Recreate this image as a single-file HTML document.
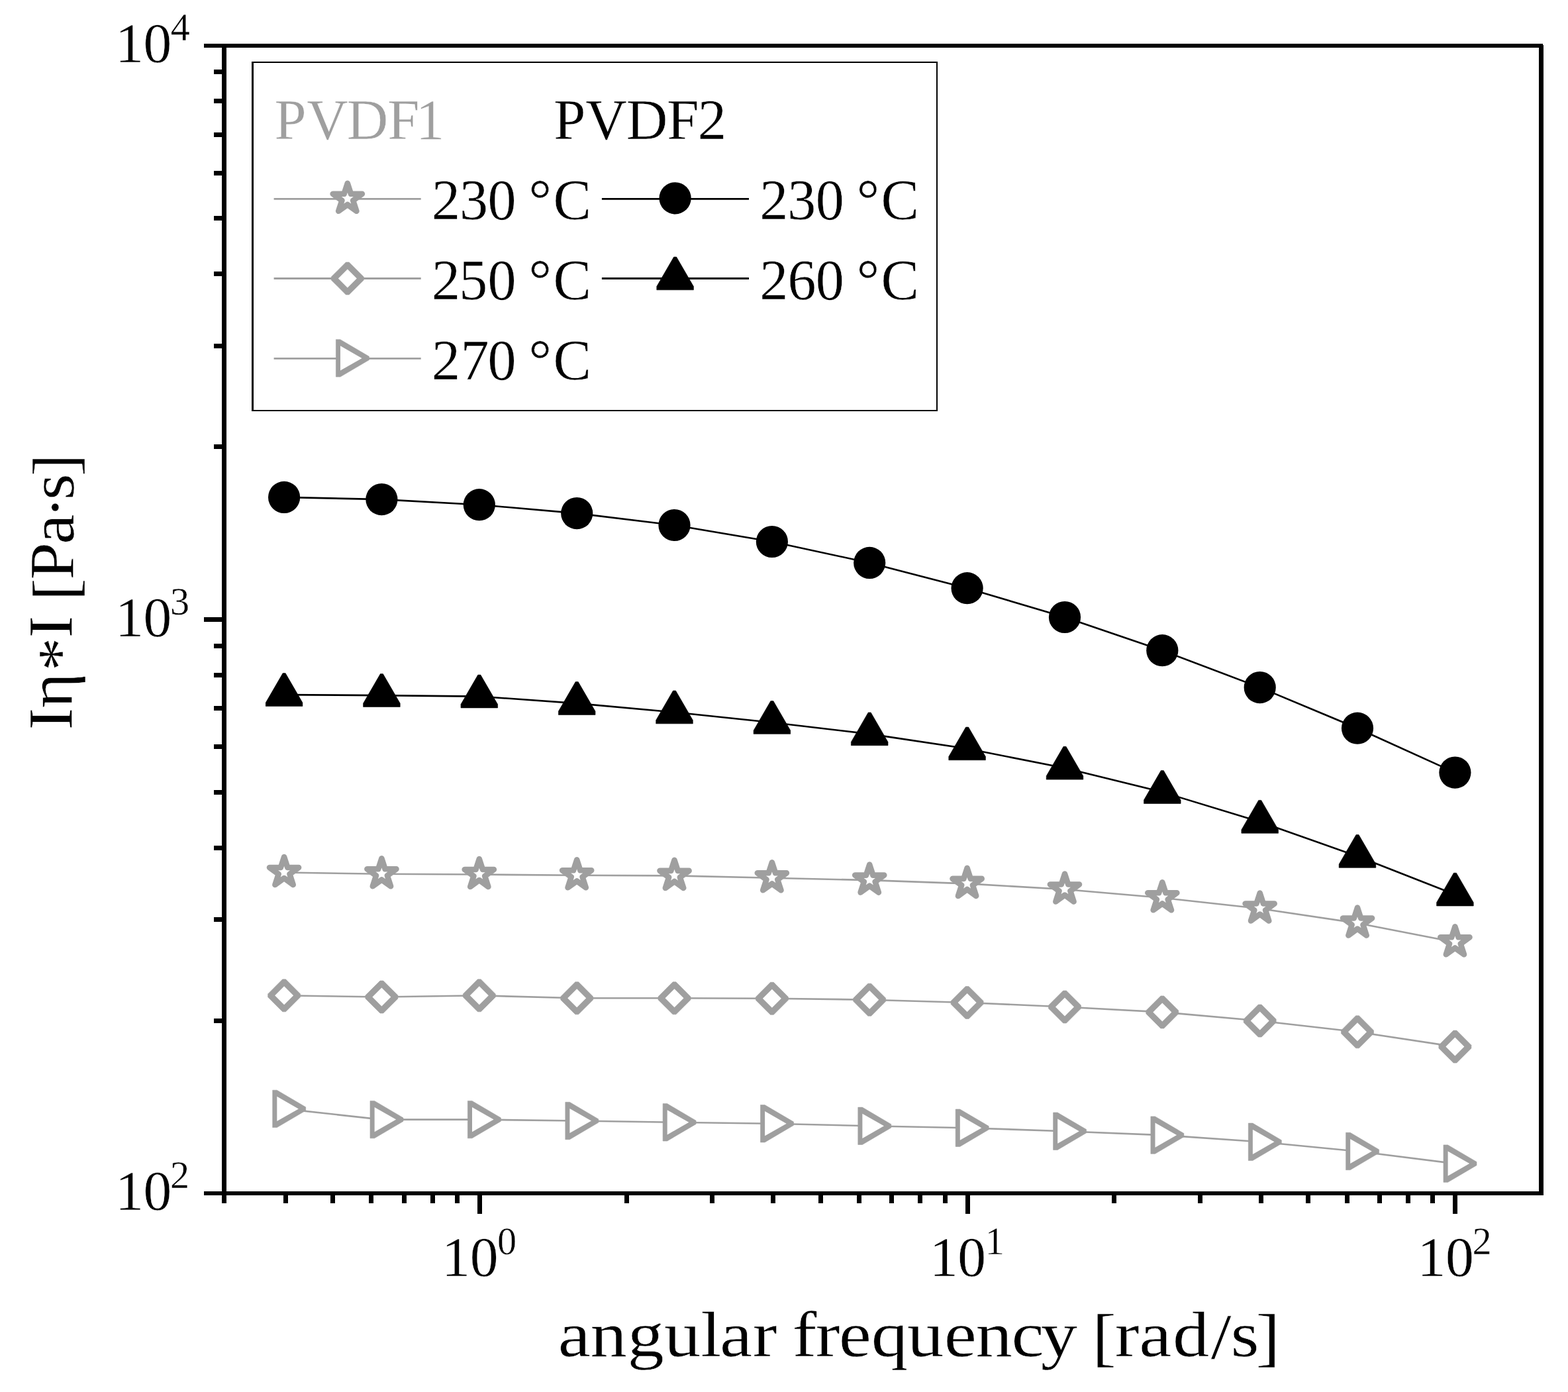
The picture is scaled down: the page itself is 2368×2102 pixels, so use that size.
<!DOCTYPE html>
<html lang="en">
<head>
<meta charset="utf-8">
<title>Complex viscosity vs angular frequency</title>
<style>
html, body { margin: 0; padding: 0; background: #fff; }
body { width: 2368px; height: 2102px; overflow: hidden; }
svg { display: block; }
svg text { font-family: "Liberation Serif", "DejaVu Serif", serif; white-space: pre; }
</style>
</head>
<body>
<svg width="2368" height="2102" viewBox="0 0 2368 2102">
<rect width="2368" height="2102" fill="#fff"/>
<g id="series">
<polyline points="429.1,1317.5 576.4,1319.8 723.8,1320.5 871.2,1321.8 1018.5,1322.4 1165.9,1325.8 1313.2,1329.1 1460.6,1334.4 1608.0,1343.0 1755.3,1355.8 1902.7,1372.0 2050.0,1394.0 2197.4,1422.8" fill="none" stroke="#9f9f9f" stroke-width="2.6"/>
<polygon points="429.1,1294.0 434.3,1310.0 451.1,1310.0 437.5,1319.9 442.7,1336.0 429.1,1326.1 415.4,1336.0 420.7,1319.9 407.0,1310.0 423.9,1310.0" fill="#fff" stroke="#9f9f9f" stroke-width="8.6" stroke-linejoin="round"/>
<polygon points="576.4,1296.3 581.6,1312.3 598.5,1312.3 584.9,1322.2 590.1,1338.3 576.4,1328.4 562.8,1338.3 568.0,1322.2 554.4,1312.3 571.2,1312.3" fill="#fff" stroke="#9f9f9f" stroke-width="8.6" stroke-linejoin="round"/>
<polygon points="723.8,1297.0 729.0,1313.0 745.9,1313.0 732.2,1322.9 737.4,1339.0 723.8,1329.1 710.2,1339.0 715.4,1322.9 701.7,1313.0 718.6,1313.0" fill="#fff" stroke="#9f9f9f" stroke-width="8.6" stroke-linejoin="round"/>
<polygon points="871.2,1298.3 876.4,1314.3 893.2,1314.3 879.6,1324.2 884.8,1340.3 871.2,1330.4 857.5,1340.3 862.7,1324.2 849.1,1314.3 866.0,1314.3" fill="#fff" stroke="#9f9f9f" stroke-width="8.6" stroke-linejoin="round"/>
<polygon points="1018.5,1298.9 1023.7,1314.9 1040.6,1314.9 1026.9,1324.8 1032.2,1340.9 1018.5,1331.0 1004.9,1340.9 1010.1,1324.8 996.5,1314.9 1013.3,1314.9" fill="#fff" stroke="#9f9f9f" stroke-width="8.6" stroke-linejoin="round"/>
<polygon points="1165.9,1302.3 1171.1,1318.3 1187.9,1318.3 1174.3,1328.2 1179.5,1344.3 1165.9,1334.4 1152.2,1344.3 1157.5,1328.2 1143.8,1318.3 1160.7,1318.3" fill="#fff" stroke="#9f9f9f" stroke-width="8.6" stroke-linejoin="round"/>
<polygon points="1313.2,1305.6 1318.4,1321.6 1335.3,1321.6 1321.7,1331.5 1326.9,1347.6 1313.2,1337.7 1299.6,1347.6 1304.8,1331.5 1291.2,1321.6 1308.0,1321.6" fill="#fff" stroke="#9f9f9f" stroke-width="8.6" stroke-linejoin="round"/>
<polygon points="1460.6,1310.9 1465.8,1326.9 1482.7,1326.9 1469.0,1336.8 1474.2,1352.9 1460.6,1343.0 1447.0,1352.9 1452.2,1336.8 1438.5,1326.9 1455.4,1326.9" fill="#fff" stroke="#9f9f9f" stroke-width="8.6" stroke-linejoin="round"/>
<polygon points="1608.0,1319.5 1613.2,1335.5 1630.0,1335.5 1616.4,1345.4 1621.6,1361.5 1608.0,1351.6 1594.3,1361.5 1599.5,1345.4 1585.9,1335.5 1602.8,1335.5" fill="#fff" stroke="#9f9f9f" stroke-width="8.6" stroke-linejoin="round"/>
<polygon points="1755.3,1332.3 1760.5,1348.3 1777.4,1348.3 1763.7,1358.2 1769.0,1374.3 1755.3,1364.4 1741.7,1374.3 1746.9,1358.2 1733.3,1348.3 1750.1,1348.3" fill="#fff" stroke="#9f9f9f" stroke-width="8.6" stroke-linejoin="round"/>
<polygon points="1902.7,1348.5 1907.9,1364.5 1924.7,1364.5 1911.1,1374.4 1916.3,1390.5 1902.7,1380.6 1889.0,1390.5 1894.3,1374.4 1880.6,1364.5 1897.5,1364.5" fill="#fff" stroke="#9f9f9f" stroke-width="8.6" stroke-linejoin="round"/>
<polygon points="2050.0,1370.5 2055.2,1386.5 2072.1,1386.5 2058.5,1396.4 2063.7,1412.5 2050.0,1402.6 2036.4,1412.5 2041.6,1396.4 2028.0,1386.5 2044.8,1386.5" fill="#fff" stroke="#9f9f9f" stroke-width="8.6" stroke-linejoin="round"/>
<polygon points="2197.4,1399.3 2202.6,1415.3 2219.5,1415.3 2205.8,1425.2 2211.0,1441.3 2197.4,1431.4 2183.8,1441.3 2189.0,1425.2 2175.3,1415.3 2192.2,1415.3" fill="#fff" stroke="#9f9f9f" stroke-width="8.6" stroke-linejoin="round"/>
<polyline points="429.1,1503.3 576.4,1505.5 723.8,1503.3 871.2,1507.3 1018.5,1507.3 1165.9,1507.8 1313.2,1509.7 1460.6,1514.0 1608.0,1520.5 1755.3,1528.4 1902.7,1541.5 2050.0,1558.3 2197.4,1580.6" fill="none" stroke="#9f9f9f" stroke-width="2.6"/>
<path d="M426.7,1478.8 L431.5,1478.8 L453.6,1500.9 L453.6,1505.7 L431.5,1527.8 L426.7,1527.8 L404.6,1505.7 L404.6,1500.9Z" fill="#9f9f9f" stroke="#9f9f9f" stroke-width="0.6" stroke-linejoin="round"/>
<path d="M429.1,1489.3 L443.1,1503.3 L429.1,1517.3 L415.1,1503.3Z" fill="#fff"/>
<path d="M574.0,1481.0 L578.8,1481.0 L600.9,1503.1 L600.9,1507.9 L578.8,1530.0 L574.0,1530.0 L551.9,1507.9 L551.9,1503.1Z" fill="#9f9f9f" stroke="#9f9f9f" stroke-width="0.6" stroke-linejoin="round"/>
<path d="M576.4,1491.5 L590.4,1505.5 L576.4,1519.5 L562.4,1505.5Z" fill="#fff"/>
<path d="M721.4,1478.8 L726.2,1478.8 L748.3,1500.9 L748.3,1505.7 L726.2,1527.8 L721.4,1527.8 L699.3,1505.7 L699.3,1500.9Z" fill="#9f9f9f" stroke="#9f9f9f" stroke-width="0.6" stroke-linejoin="round"/>
<path d="M723.8,1489.3 L737.8,1503.3 L723.8,1517.3 L709.8,1503.3Z" fill="#fff"/>
<path d="M868.8,1482.8 L873.6,1482.8 L895.7,1504.9 L895.7,1509.7 L873.6,1531.8 L868.8,1531.8 L846.7,1509.7 L846.7,1504.9Z" fill="#9f9f9f" stroke="#9f9f9f" stroke-width="0.6" stroke-linejoin="round"/>
<path d="M871.2,1493.3 L885.2,1507.3 L871.2,1521.3 L857.2,1507.3Z" fill="#fff"/>
<path d="M1016.1,1482.8 L1020.9,1482.8 L1043.0,1504.9 L1043.0,1509.7 L1020.9,1531.8 L1016.1,1531.8 L994.0,1509.7 L994.0,1504.9Z" fill="#9f9f9f" stroke="#9f9f9f" stroke-width="0.6" stroke-linejoin="round"/>
<path d="M1018.5,1493.3 L1032.5,1507.3 L1018.5,1521.3 L1004.5,1507.3Z" fill="#fff"/>
<path d="M1163.5,1483.3 L1168.3,1483.3 L1190.4,1505.4 L1190.4,1510.2 L1168.3,1532.3 L1163.5,1532.3 L1141.4,1510.2 L1141.4,1505.4Z" fill="#9f9f9f" stroke="#9f9f9f" stroke-width="0.6" stroke-linejoin="round"/>
<path d="M1165.9,1493.8 L1179.9,1507.8 L1165.9,1521.8 L1151.9,1507.8Z" fill="#fff"/>
<path d="M1310.8,1485.2 L1315.6,1485.2 L1337.7,1507.3 L1337.7,1512.1 L1315.6,1534.2 L1310.8,1534.2 L1288.7,1512.1 L1288.7,1507.3Z" fill="#9f9f9f" stroke="#9f9f9f" stroke-width="0.6" stroke-linejoin="round"/>
<path d="M1313.2,1495.7 L1327.2,1509.7 L1313.2,1523.7 L1299.2,1509.7Z" fill="#fff"/>
<path d="M1458.2,1489.5 L1463.0,1489.5 L1485.1,1511.6 L1485.1,1516.4 L1463.0,1538.5 L1458.2,1538.5 L1436.1,1516.4 L1436.1,1511.6Z" fill="#9f9f9f" stroke="#9f9f9f" stroke-width="0.6" stroke-linejoin="round"/>
<path d="M1460.6,1500.0 L1474.6,1514.0 L1460.6,1528.0 L1446.6,1514.0Z" fill="#fff"/>
<path d="M1605.6,1496.0 L1610.4,1496.0 L1632.5,1518.1 L1632.5,1522.9 L1610.4,1545.0 L1605.6,1545.0 L1583.5,1522.9 L1583.5,1518.1Z" fill="#9f9f9f" stroke="#9f9f9f" stroke-width="0.6" stroke-linejoin="round"/>
<path d="M1608.0,1506.5 L1622.0,1520.5 L1608.0,1534.5 L1594.0,1520.5Z" fill="#fff"/>
<path d="M1752.9,1503.9 L1757.7,1503.9 L1779.8,1526.0 L1779.8,1530.8 L1757.7,1552.9 L1752.9,1552.9 L1730.8,1530.8 L1730.8,1526.0Z" fill="#9f9f9f" stroke="#9f9f9f" stroke-width="0.6" stroke-linejoin="round"/>
<path d="M1755.3,1514.4 L1769.3,1528.4 L1755.3,1542.4 L1741.3,1528.4Z" fill="#fff"/>
<path d="M1900.3,1517.0 L1905.1,1517.0 L1927.2,1539.1 L1927.2,1543.9 L1905.1,1566.0 L1900.3,1566.0 L1878.2,1543.9 L1878.2,1539.1Z" fill="#9f9f9f" stroke="#9f9f9f" stroke-width="0.6" stroke-linejoin="round"/>
<path d="M1902.7,1527.5 L1916.7,1541.5 L1902.7,1555.5 L1888.7,1541.5Z" fill="#fff"/>
<path d="M2047.6,1533.8 L2052.4,1533.8 L2074.5,1555.9 L2074.5,1560.7 L2052.4,1582.8 L2047.6,1582.8 L2025.5,1560.7 L2025.5,1555.9Z" fill="#9f9f9f" stroke="#9f9f9f" stroke-width="0.6" stroke-linejoin="round"/>
<path d="M2050.0,1544.3 L2064.0,1558.3 L2050.0,1572.3 L2036.0,1558.3Z" fill="#fff"/>
<path d="M2195.0,1556.1 L2199.8,1556.1 L2221.9,1578.2 L2221.9,1583.0 L2199.8,1605.1 L2195.0,1605.1 L2172.9,1583.0 L2172.9,1578.2Z" fill="#9f9f9f" stroke="#9f9f9f" stroke-width="0.6" stroke-linejoin="round"/>
<path d="M2197.4,1566.6 L2211.4,1580.6 L2197.4,1594.6 L2183.4,1580.6Z" fill="#fff"/>
<polyline points="429.1,1674.4 576.4,1690.6 723.8,1690.6 871.2,1692.5 1018.5,1694.8 1165.9,1696.7 1313.2,1700.3 1460.6,1703.2 1608.0,1708.2 1755.3,1714.1 1902.7,1724.3 2050.0,1738.5 2197.4,1757.1" fill="none" stroke="#9f9f9f" stroke-width="2.6"/>
<path d="M411.7,1646.2 L418.2,1646.2 L461.7,1671.8 L461.7,1677.0 L418.2,1702.6 L411.7,1702.6Z" fill="#9f9f9f" stroke="#9f9f9f" stroke-width="0.6" stroke-linejoin="round"/>
<path d="M418.3,1655.8 L450.9,1674.4 L418.3,1693.0Z" fill="#fff"/>
<path d="M559.0,1662.4 L565.5,1662.4 L609.0,1688.0 L609.0,1693.2 L565.5,1718.8 L559.0,1718.8Z" fill="#9f9f9f" stroke="#9f9f9f" stroke-width="0.6" stroke-linejoin="round"/>
<path d="M565.6,1672.0 L598.2,1690.6 L565.6,1709.2Z" fill="#fff"/>
<path d="M706.4,1662.4 L712.9,1662.4 L756.4,1688.0 L756.4,1693.2 L712.9,1718.8 L706.4,1718.8Z" fill="#9f9f9f" stroke="#9f9f9f" stroke-width="0.6" stroke-linejoin="round"/>
<path d="M713.0,1672.0 L745.6,1690.6 L713.0,1709.2Z" fill="#fff"/>
<path d="M853.8,1664.3 L860.3,1664.3 L903.8,1689.9 L903.8,1695.1 L860.3,1720.7 L853.8,1720.7Z" fill="#9f9f9f" stroke="#9f9f9f" stroke-width="0.6" stroke-linejoin="round"/>
<path d="M860.4,1673.9 L893.0,1692.5 L860.4,1711.1Z" fill="#fff"/>
<path d="M1001.1,1666.6 L1007.6,1666.6 L1051.1,1692.2 L1051.1,1697.4 L1007.6,1723.0 L1001.1,1723.0Z" fill="#9f9f9f" stroke="#9f9f9f" stroke-width="0.6" stroke-linejoin="round"/>
<path d="M1007.7,1676.2 L1040.3,1694.8 L1007.7,1713.4Z" fill="#fff"/>
<path d="M1148.5,1668.5 L1155.0,1668.5 L1198.5,1694.1 L1198.5,1699.3 L1155.0,1724.9 L1148.5,1724.9Z" fill="#9f9f9f" stroke="#9f9f9f" stroke-width="0.6" stroke-linejoin="round"/>
<path d="M1155.1,1678.1 L1187.7,1696.7 L1155.1,1715.3Z" fill="#fff"/>
<path d="M1295.8,1672.1 L1302.3,1672.1 L1345.8,1697.7 L1345.8,1702.9 L1302.3,1728.5 L1295.8,1728.5Z" fill="#9f9f9f" stroke="#9f9f9f" stroke-width="0.6" stroke-linejoin="round"/>
<path d="M1302.4,1681.7 L1335.0,1700.3 L1302.4,1718.9Z" fill="#fff"/>
<path d="M1443.2,1675.0 L1449.7,1675.0 L1493.2,1700.6 L1493.2,1705.8 L1449.7,1731.4 L1443.2,1731.4Z" fill="#9f9f9f" stroke="#9f9f9f" stroke-width="0.6" stroke-linejoin="round"/>
<path d="M1449.8,1684.6 L1482.4,1703.2 L1449.8,1721.8Z" fill="#fff"/>
<path d="M1590.6,1680.0 L1597.1,1680.0 L1640.6,1705.6 L1640.6,1710.8 L1597.1,1736.4 L1590.6,1736.4Z" fill="#9f9f9f" stroke="#9f9f9f" stroke-width="0.6" stroke-linejoin="round"/>
<path d="M1597.2,1689.6 L1629.8,1708.2 L1597.2,1726.8Z" fill="#fff"/>
<path d="M1737.9,1685.9 L1744.4,1685.9 L1787.9,1711.5 L1787.9,1716.7 L1744.4,1742.3 L1737.9,1742.3Z" fill="#9f9f9f" stroke="#9f9f9f" stroke-width="0.6" stroke-linejoin="round"/>
<path d="M1744.5,1695.5 L1777.1,1714.1 L1744.5,1732.7Z" fill="#fff"/>
<path d="M1885.3,1696.1 L1891.8,1696.1 L1935.3,1721.7 L1935.3,1726.9 L1891.8,1752.5 L1885.3,1752.5Z" fill="#9f9f9f" stroke="#9f9f9f" stroke-width="0.6" stroke-linejoin="round"/>
<path d="M1891.9,1705.7 L1924.5,1724.3 L1891.9,1742.9Z" fill="#fff"/>
<path d="M2032.6,1710.3 L2039.1,1710.3 L2082.6,1735.9 L2082.6,1741.1 L2039.1,1766.7 L2032.6,1766.7Z" fill="#9f9f9f" stroke="#9f9f9f" stroke-width="0.6" stroke-linejoin="round"/>
<path d="M2039.2,1719.9 L2071.8,1738.5 L2039.2,1757.1Z" fill="#fff"/>
<path d="M2180.0,1728.9 L2186.5,1728.9 L2230.0,1754.5 L2230.0,1759.7 L2186.5,1785.3 L2180.0,1785.3Z" fill="#9f9f9f" stroke="#9f9f9f" stroke-width="0.6" stroke-linejoin="round"/>
<path d="M2186.6,1738.5 L2219.2,1757.1 L2186.6,1775.7Z" fill="#fff"/>
<polyline points="429.1,750.9 576.4,754.1 723.8,762.2 871.2,775.1 1018.5,793.0 1165.9,818.0 1313.2,849.9 1460.6,888.2 1608.0,932.0 1755.3,982.2 1902.7,1038.1 2050.0,1099.7 2197.4,1166.6" fill="none" stroke="#000" stroke-width="2.6"/>
<circle cx="429.1" cy="750.9" r="24.1" fill="#000"/>
<circle cx="576.4" cy="754.1" r="24.1" fill="#000"/>
<circle cx="723.8" cy="762.2" r="24.1" fill="#000"/>
<circle cx="871.2" cy="775.1" r="24.1" fill="#000"/>
<circle cx="1018.5" cy="793.0" r="24.1" fill="#000"/>
<circle cx="1165.9" cy="818.0" r="24.1" fill="#000"/>
<circle cx="1313.2" cy="849.9" r="24.1" fill="#000"/>
<circle cx="1460.6" cy="888.2" r="24.1" fill="#000"/>
<circle cx="1608.0" cy="932.0" r="24.1" fill="#000"/>
<circle cx="1755.3" cy="982.2" r="24.1" fill="#000"/>
<circle cx="1902.7" cy="1038.1" r="24.1" fill="#000"/>
<circle cx="2050.0" cy="1099.7" r="24.1" fill="#000"/>
<circle cx="2197.4" cy="1166.6" r="24.1" fill="#000"/>
<polyline points="429.1,1049.1 576.4,1050.1 723.8,1051.6 871.2,1062.1 1018.5,1075.5 1165.9,1091.0 1313.2,1108.4 1460.6,1130.5 1608.0,1159.8 1755.3,1196.1 1902.7,1240.9 2050.0,1293.0 2197.4,1350.7" fill="none" stroke="#000" stroke-width="2.6"/>
<path d="M427.1,1016.6 L431.1,1016.6 L456.9,1061.1 L456.9,1066.4 L401.3,1066.4 L401.3,1061.1Z" fill="#000" stroke="#000" stroke-width="0.6" stroke-linejoin="round"/>
<path d="M574.4,1017.6 L578.4,1017.6 L604.2,1062.1 L604.2,1067.4 L548.6,1067.4 L548.6,1062.1Z" fill="#000" stroke="#000" stroke-width="0.6" stroke-linejoin="round"/>
<path d="M721.8,1019.1 L725.8,1019.1 L751.6,1063.6 L751.6,1068.9 L696.0,1068.9 L696.0,1063.6Z" fill="#000" stroke="#000" stroke-width="0.6" stroke-linejoin="round"/>
<path d="M869.2,1029.6 L873.2,1029.6 L899.0,1074.1 L899.0,1079.4 L843.4,1079.4 L843.4,1074.1Z" fill="#000" stroke="#000" stroke-width="0.6" stroke-linejoin="round"/>
<path d="M1016.5,1043.0 L1020.5,1043.0 L1046.3,1087.5 L1046.3,1092.8 L990.7,1092.8 L990.7,1087.5Z" fill="#000" stroke="#000" stroke-width="0.6" stroke-linejoin="round"/>
<path d="M1163.9,1058.5 L1167.9,1058.5 L1193.7,1103.0 L1193.7,1108.3 L1138.1,1108.3 L1138.1,1103.0Z" fill="#000" stroke="#000" stroke-width="0.6" stroke-linejoin="round"/>
<path d="M1311.2,1075.9 L1315.2,1075.9 L1341.0,1120.4 L1341.0,1125.7 L1285.4,1125.7 L1285.4,1120.4Z" fill="#000" stroke="#000" stroke-width="0.6" stroke-linejoin="round"/>
<path d="M1458.6,1098.0 L1462.6,1098.0 L1488.4,1142.5 L1488.4,1147.8 L1432.8,1147.8 L1432.8,1142.5Z" fill="#000" stroke="#000" stroke-width="0.6" stroke-linejoin="round"/>
<path d="M1606.0,1127.3 L1610.0,1127.3 L1635.8,1171.8 L1635.8,1177.1 L1580.2,1177.1 L1580.2,1171.8Z" fill="#000" stroke="#000" stroke-width="0.6" stroke-linejoin="round"/>
<path d="M1753.3,1163.6 L1757.3,1163.6 L1783.1,1208.1 L1783.1,1213.4 L1727.5,1213.4 L1727.5,1208.1Z" fill="#000" stroke="#000" stroke-width="0.6" stroke-linejoin="round"/>
<path d="M1900.7,1208.4 L1904.7,1208.4 L1930.5,1252.9 L1930.5,1258.2 L1874.9,1258.2 L1874.9,1252.9Z" fill="#000" stroke="#000" stroke-width="0.6" stroke-linejoin="round"/>
<path d="M2048.0,1260.5 L2052.0,1260.5 L2077.8,1305.0 L2077.8,1310.3 L2022.2,1310.3 L2022.2,1305.0Z" fill="#000" stroke="#000" stroke-width="0.6" stroke-linejoin="round"/>
<path d="M2195.4,1318.2 L2199.4,1318.2 L2225.2,1362.7 L2225.2,1368.0 L2169.6,1368.0 L2169.6,1362.7Z" fill="#000" stroke="#000" stroke-width="0.6" stroke-linejoin="round"/>
</g>
<g id="axes" shape-rendering="crispEdges">
<rect x="308" y="66" width="2022" height="6" fill="#000"/>
<rect x="308" y="1799" width="2023" height="6" fill="#000"/>
<rect x="335" y="66" width="7" height="1751" fill="#000"/>
<rect x="2324" y="68" width="7" height="1737" fill="#000"/>
<rect x="323" y="1538" width="15" height="7" fill="#000"/>
<rect x="323" y="1385" width="15" height="7" fill="#000"/>
<rect x="323" y="1277" width="15" height="7" fill="#000"/>
<rect x="323" y="1193" width="15" height="7" fill="#000"/>
<rect x="323" y="1124" width="15" height="7" fill="#000"/>
<rect x="323" y="1066" width="15" height="7" fill="#000"/>
<rect x="323" y="1016" width="15" height="7" fill="#000"/>
<rect x="323" y="972" width="15" height="7" fill="#000"/>
<rect x="308" y="932" width="30" height="7" fill="#000"/>
<rect x="323" y="671" width="15" height="7" fill="#000"/>
<rect x="323" y="519" width="15" height="7" fill="#000"/>
<rect x="323" y="410" width="15" height="7" fill="#000"/>
<rect x="323" y="326" width="15" height="7" fill="#000"/>
<rect x="323" y="258" width="15" height="7" fill="#000"/>
<rect x="323" y="200" width="15" height="7" fill="#000"/>
<rect x="323" y="149" width="15" height="7" fill="#000"/>
<rect x="323" y="105" width="15" height="7" fill="#000"/>
<rect x="428" y="1802" width="7" height="15" fill="#000"/>
<rect x="499" y="1802" width="7" height="15" fill="#000"/>
<rect x="557" y="1802" width="7" height="15" fill="#000"/>
<rect x="607" y="1802" width="7" height="15" fill="#000"/>
<rect x="650" y="1802" width="7" height="15" fill="#000"/>
<rect x="687" y="1802" width="7" height="15" fill="#000"/>
<rect x="721" y="1802" width="7" height="31" fill="#000"/>
<rect x="943" y="1802" width="7" height="15" fill="#000"/>
<rect x="1072" y="1802" width="7" height="15" fill="#000"/>
<rect x="1164" y="1802" width="7" height="15" fill="#000"/>
<rect x="1236" y="1802" width="7" height="15" fill="#000"/>
<rect x="1294" y="1802" width="7" height="15" fill="#000"/>
<rect x="1343" y="1802" width="7" height="15" fill="#000"/>
<rect x="1386" y="1802" width="7" height="15" fill="#000"/>
<rect x="1424" y="1802" width="7" height="15" fill="#000"/>
<rect x="1458" y="1802" width="7" height="31" fill="#000"/>
<rect x="1679" y="1802" width="7" height="15" fill="#000"/>
<rect x="1809" y="1802" width="7" height="15" fill="#000"/>
<rect x="1901" y="1802" width="7" height="15" fill="#000"/>
<rect x="1972" y="1802" width="7" height="15" fill="#000"/>
<rect x="2031" y="1802" width="7" height="15" fill="#000"/>
<rect x="2080" y="1802" width="7" height="15" fill="#000"/>
<rect x="2123" y="1802" width="7" height="15" fill="#000"/>
<rect x="2160" y="1802" width="7" height="15" fill="#000"/>
<rect x="2194" y="1802" width="7" height="31" fill="#000"/>
</g>
<text x="174.18 216.56" y="94.00 94.00" font-size="85.6" fill="#000" stroke="#fff" stroke-width="0.4">10<tspan x="257.66" y="61.40" font-size="58.2">4</tspan></text>
<text x="174.18 216.56" y="960.50 960.50" font-size="85.6" fill="#000" stroke="#fff" stroke-width="0.4">10<tspan x="257.02" y="927.90" font-size="58.2">3</tspan></text>
<text x="174.18 216.56" y="1827.00 1827.00" font-size="85.6" fill="#000" stroke="#fff" stroke-width="0.4">10<tspan x="257.04" y="1794.40" font-size="58.2">2</tspan></text>
<text x="667.28 709.66" y="1926.90 1926.90" font-size="85.6" fill="#000" stroke="#fff" stroke-width="0.4">10<tspan x="751.08" y="1894.30" font-size="58.2">0</tspan></text>
<text x="1403.93 1446.31" y="1926.90 1926.90" font-size="85.6" fill="#000" stroke="#fff" stroke-width="0.4">10<tspan x="1487.63" y="1894.30" font-size="58.2">1</tspan></text>
<text x="2140.58 2182.96" y="1926.90 1926.90" font-size="85.6" fill="#000" stroke="#fff" stroke-width="0.4">10<tspan x="2223.44" y="1894.30" font-size="58.2">2</tspan></text>
<text id="xlabel" transform="scale(1.14,1)" x="739.31 782.04 831.12 879.89 928.50 953.48 997.25 1029.55 1049.68 1080.50 1111.29 1154.17 1201.82 1250.58 1292.48 1339.96 1378.64 1427.14 1446.48 1477.08 1509.01 1553.54 1604.11 1630.32 1663.58" y="2047.70 2047.70 2047.70 2047.70 2047.70 2047.70 2047.70 2047.70 2047.70 2047.70 2047.70 2047.70 2047.70 2047.70 2047.70 2047.70 2047.70 2047.70 2051.90 2047.70 2047.70 2047.70 2051.10 2047.70 2051.90" font-size="97" fill="#000" stroke="#fff" stroke-width="0.5">angular frequency [rad/s]</text>
<text id="ylabel" transform="translate(111.0,1098.9) rotate(-90) scale(1.06,1)" x="-3.47 27.88 80.48 127.70 159.66 180.73 210.68 261.39 298.07 324.48 358.27" y="-1.60 -2.50 12.30 -1.60 0.00 3.50 0.00 0.00 4.00 0.00 3.50" font-size="96" fill="#000" stroke="#fff" stroke-width="0.5">Iη*I [Pa·s]</text>
<g id="legend-box" shape-rendering="crispEdges">
<rect x="380" y="93" width="1036" height="528" fill="#fff"/>
<rect x="380" y="93" width="1036" height="2" fill="#000"/>
<rect x="380" y="619" width="1036" height="2" fill="#000"/>
<rect x="380" y="93" width="3" height="528" fill="#000"/>
<rect x="1414" y="93" width="2" height="528" fill="#000"/>
</g>
<text x="414.61 463.23 523.77 585.24 627.90" y="209.80 209.80 209.80 209.80 209.80" font-size="86.6" fill="#9f9f9f" stroke="#fff" stroke-width="0.4">PVDF1</text>
<text x="836.31 884.28 945.72 1007.14 1053.78" y="209.80 209.80 209.80 209.80 209.80" font-size="86.6" fill="#000" stroke="#fff" stroke-width="0.4">PVDF2</text>
<line x1="413.6" y1="300.3" x2="635.7" y2="300.3" stroke="#9f9f9f" stroke-width="2.8"/>
<polygon points="524.8,276.8 530.0,292.8 546.9,292.8 533.2,302.7 538.4,318.8 524.8,308.9 511.2,318.8 516.4,302.7 502.7,292.8 519.6,292.8" fill="#fff" stroke="#9f9f9f" stroke-width="8.6" stroke-linejoin="round"/>
<text x="652.12 694.12 736.50 779.50 798.60 835.38" y="330.80 330.80 330.80 330.80 330.00 331.40" font-size="86" fill="#000" stroke="#fff" stroke-width="0.4">230 °C</text>
<line x1="413.6" y1="420.5" x2="635.7" y2="420.5" stroke="#9f9f9f" stroke-width="2.8"/>
<path d="M522.4,396.0 L527.2,396.0 L549.3,418.1 L549.3,422.9 L527.2,445.0 L522.4,445.0 L500.3,422.9 L500.3,418.1Z" fill="#9f9f9f" stroke="#9f9f9f" stroke-width="0.6" stroke-linejoin="round"/>
<path d="M524.8,406.5 L538.8,420.5 L524.8,434.5 L510.8,420.5Z" fill="#fff"/>
<text x="652.12 693.23 736.50 779.50 798.60 835.38" y="451.75 451.75 451.75 451.75 450.95 452.35" font-size="86" fill="#000" stroke="#fff" stroke-width="0.4">250 °C</text>
<line x1="413.6" y1="541.3" x2="635.7" y2="541.3" stroke="#9f9f9f" stroke-width="2.8"/>
<path d="M507.4,512.7 L513.9,512.7 L557.4,538.3 L557.4,543.5 L513.9,569.1 L507.4,569.1Z" fill="#9f9f9f" stroke="#9f9f9f" stroke-width="0.6" stroke-linejoin="round"/>
<path d="M514.0,522.3 L546.6,540.9 L514.0,559.5Z" fill="#fff"/>
<text x="652.12 695.45 736.50 779.50 798.60 835.38" y="572.70 572.70 572.70 572.70 571.90 573.30" font-size="86" fill="#000" stroke="#fff" stroke-width="0.4">270 °C</text>
<line x1="908.9" y1="300.3" x2="1131" y2="300.3" stroke="#000" stroke-width="2.8"/>
<circle cx="1019.6" cy="299.3" r="24.1" fill="#000"/>
<text x="1147.32 1189.32 1231.70 1274.70 1293.80 1330.58" y="330.80 330.80 330.80 330.80 330.00 331.40" font-size="86" fill="#000" stroke="#fff" stroke-width="0.4">230 °C</text>
<line x1="908.9" y1="420.5" x2="1131" y2="420.5" stroke="#000" stroke-width="2.8"/>
<path d="M1017.6,388.0 L1021.6,388.0 L1047.4,432.5 L1047.4,437.8 L991.8,437.8 L991.8,432.5Z" fill="#000" stroke="#000" stroke-width="0.6" stroke-linejoin="round"/>
<text x="1147.32 1189.48 1231.70 1274.70 1293.80 1330.58" y="451.75 451.75 451.75 451.75 450.95 452.35" font-size="86" fill="#000" stroke="#fff" stroke-width="0.4">260 °C</text>
</svg>
</body>
</html>
